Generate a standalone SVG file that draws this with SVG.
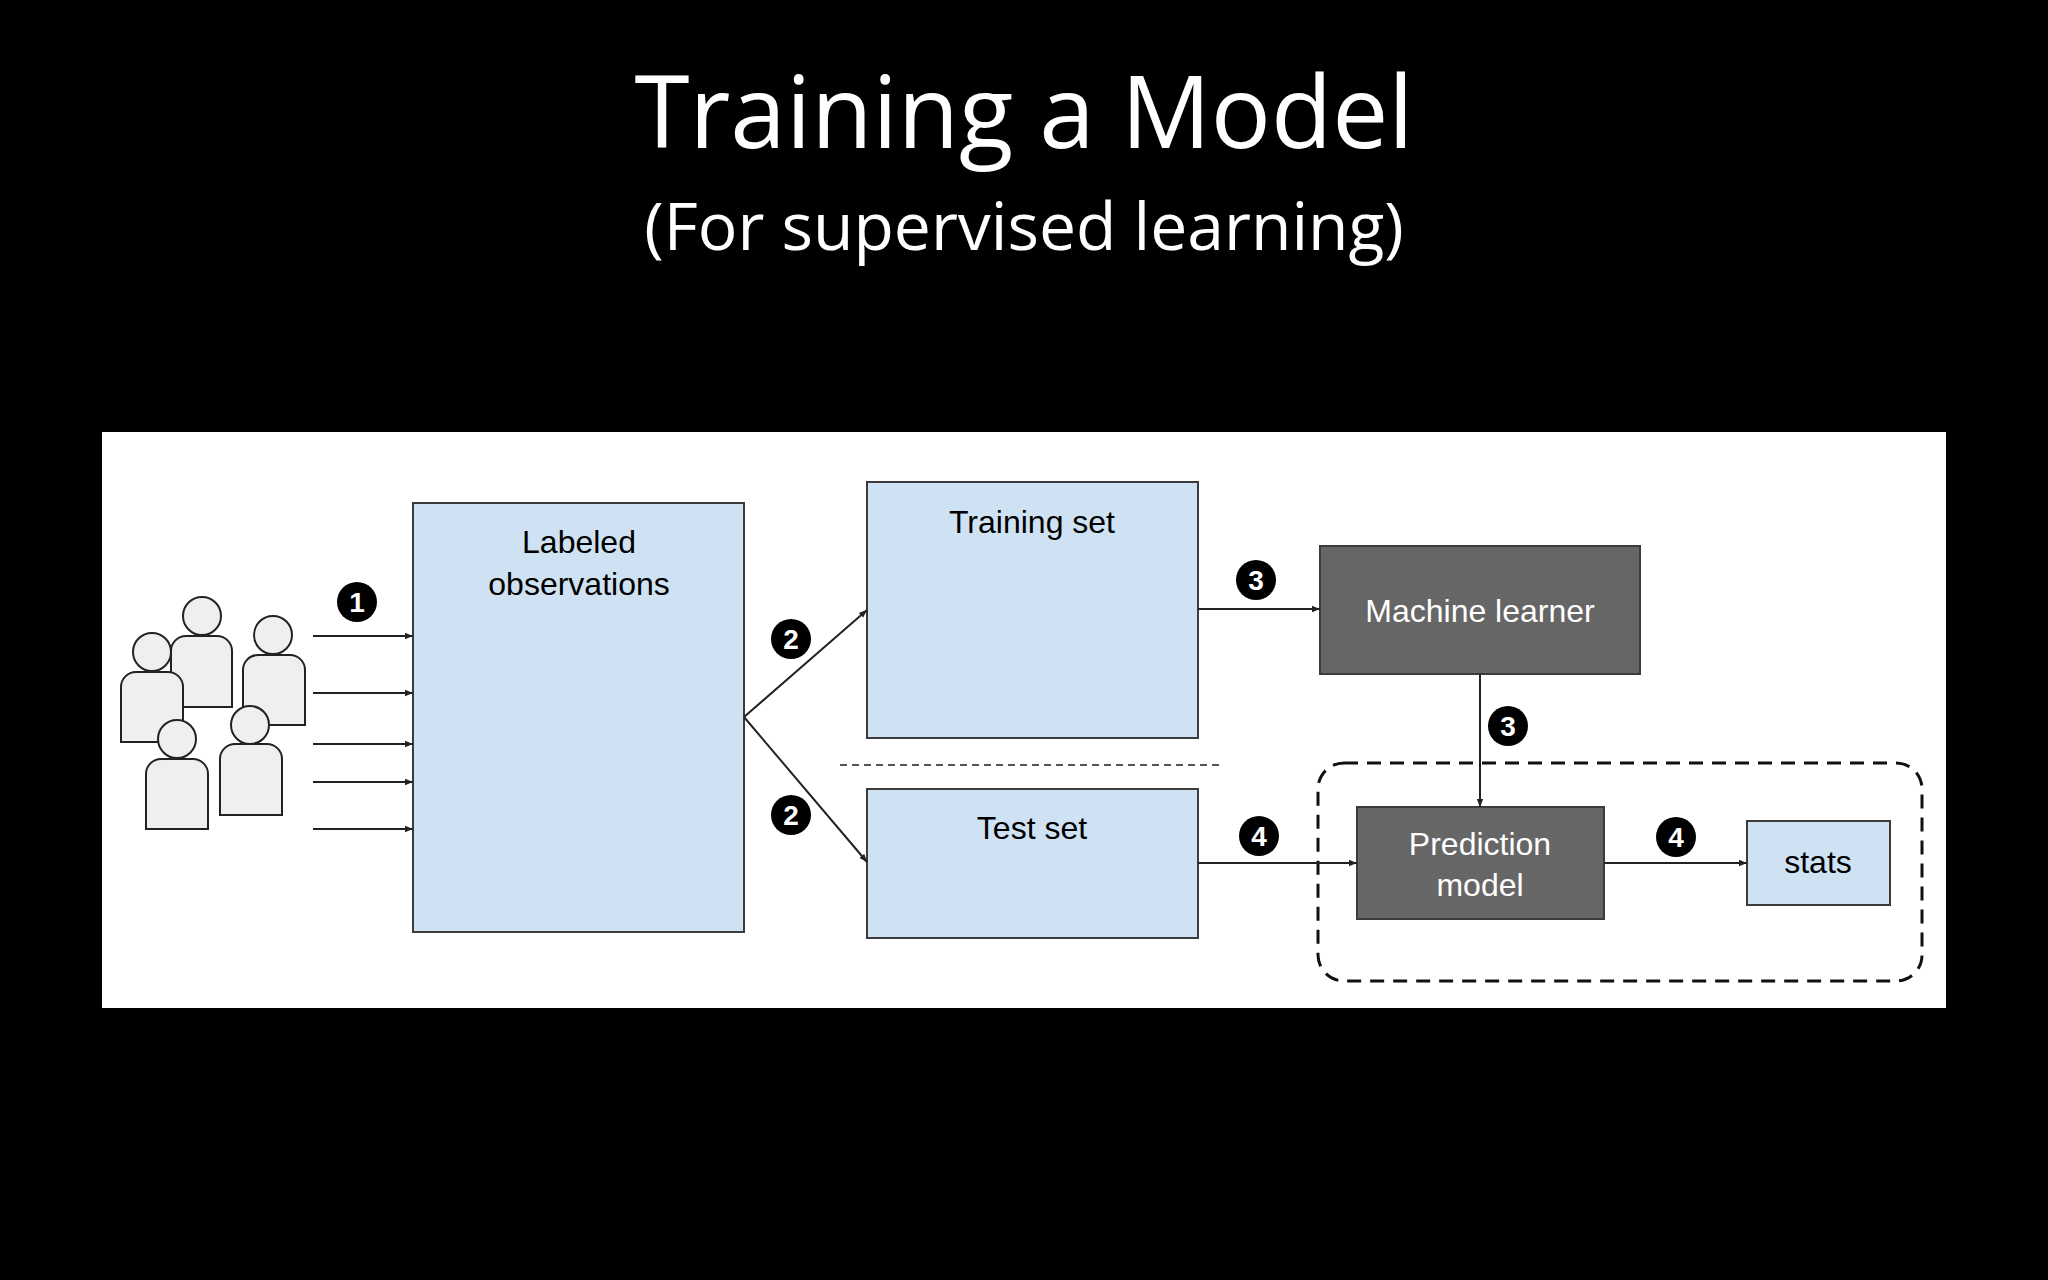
<svg xmlns="http://www.w3.org/2000/svg" width="2048" height="1280" viewBox="0 0 2048 1280">
<defs>
<marker id="ah" viewBox="0 0 10 10" refX="10" refY="5" markerWidth="8" markerHeight="8" markerUnits="userSpaceOnUse" orient="auto"><path d="M0,1 L10,5 L0,9 z" fill="#222"/></marker>
<style>
.box{fill:#cfe2f3;stroke:#3c3c3c;stroke-width:2}
.dark{fill:#666;stroke:#3c3c3c;stroke-width:2}
.t{font-family:"Liberation Sans",Arial,sans-serif;font-size:32px;text-anchor:middle}
.con{stroke:#222;stroke-width:2;fill:none;marker-end:url(#ah)}
.p{fill:#efefef;stroke:#222;stroke-width:2}
.bd circle{fill:#000}
.bd text{font-family:"Liberation Sans",Arial,sans-serif;font-size:28px;font-weight:bold;fill:#fff;text-anchor:middle}
</style>
</defs>
<rect width="2048" height="1280" fill="#000"/>
<text x="1024" y="148" font-family="'Open Sans',sans-serif" font-size="100" fill="#fff" text-anchor="middle">Training a Model</text>
<text x="1024" y="250" font-family="'Open Sans',sans-serif" font-size="66" fill="#fff" text-anchor="middle">(For supervised learning)</text>
<rect x="102" y="432" width="1844" height="576" fill="#fff"/>
<g id="people">
<circle class="p" cx="202" cy="616" r="19"/><path class="p" d="M171,707 V651 A15,15 0 0 1 186,636 H217 A15,15 0 0 1 232,651 V707 Z"/>
<circle class="p" cx="152" cy="652" r="19"/><path class="p" d="M121,742 V687 A15,15 0 0 1 136,672 H168 A15,15 0 0 1 183,687 V742 Z"/>
<circle class="p" cx="273" cy="635" r="19"/><path class="p" d="M243,725 V670 A15,15 0 0 1 258,655 H290 A15,15 0 0 1 305,670 V725 Z"/>
<circle class="p" cx="250" cy="725" r="19"/><path class="p" d="M220,815 V759 A15,15 0 0 1 235,744 H267 A15,15 0 0 1 282,759 V815 Z"/>
<circle class="p" cx="177" cy="739" r="19"/><path class="p" d="M146,829 V774 A15,15 0 0 1 161,759 H193 A15,15 0 0 1 208,774 V829 Z"/>
</g>
<g id="labeled"><rect class="box" x="413" y="503" width="331" height="429"/><text class="t" x="579" y="553">Labeled</text><text class="t" x="579" y="595">observations</text></g>
<g id="training"><rect class="box" x="867" y="482" width="331" height="256"/><text class="t" x="1032" y="533">Training set</text></g>
<g id="test"><rect class="box" x="867" y="789" width="331" height="149"/><text class="t" x="1032" y="839">Test set</text></g>
<g id="ml"><rect class="dark" x="1320" y="546" width="320" height="128"/><text class="t" x="1480" y="622" fill="#fff">Machine learner</text></g>
<g id="pred"><rect class="dark" x="1357" y="807" width="247" height="112"/><text class="t" x="1480" y="855" fill="#fff">Prediction</text><text class="t" x="1480" y="896" fill="#fff">model</text></g>
<g id="stats"><rect class="box" x="1747" y="821" width="143" height="84"/><text class="t" x="1818" y="873">stats</text></g>
<line x1="840" y1="765" x2="1224" y2="765" stroke="#555" stroke-width="2" stroke-dasharray="7,5"/>
<rect x="1318" y="763" width="604" height="218" rx="26" fill="none" stroke="#111" stroke-width="3" stroke-dasharray="14,9"/>
<g id="connectors">
<line class="con" x1="313" y1="636" x2="413" y2="636"/>
<line class="con" x1="313" y1="693" x2="413" y2="693"/>
<line class="con" x1="313" y1="744" x2="413" y2="744"/>
<line class="con" x1="313" y1="782" x2="413" y2="782"/>
<line class="con" x1="313" y1="829" x2="413" y2="829"/>
<line class="con" x1="744" y1="717" x2="867" y2="610"/>
<line class="con" x1="744" y1="717" x2="867" y2="862"/>
<line class="con" x1="1198" y1="609" x2="1320" y2="609"/>
<line class="con" x1="1480" y1="674" x2="1480" y2="807"/>
<line class="con" x1="1198" y1="863" x2="1357" y2="863"/>
<line class="con" x1="1604" y1="863" x2="1747" y2="863"/>
</g>
<g class="bd">
<circle cx="357" cy="602" r="20"/><text x="357" y="612">1</text>
<circle cx="791" cy="639" r="20"/><text x="791" y="649">2</text>
<circle cx="791" cy="815" r="20"/><text x="791" y="825">2</text>
<circle cx="1256" cy="580" r="20"/><text x="1256" y="590">3</text>
<circle cx="1508" cy="726" r="20"/><text x="1508" y="736">3</text>
<circle cx="1259" cy="836" r="20"/><text x="1259" y="846">4</text>
<circle cx="1676" cy="837" r="20"/><text x="1676" y="847">4</text>
</g>
</svg>
